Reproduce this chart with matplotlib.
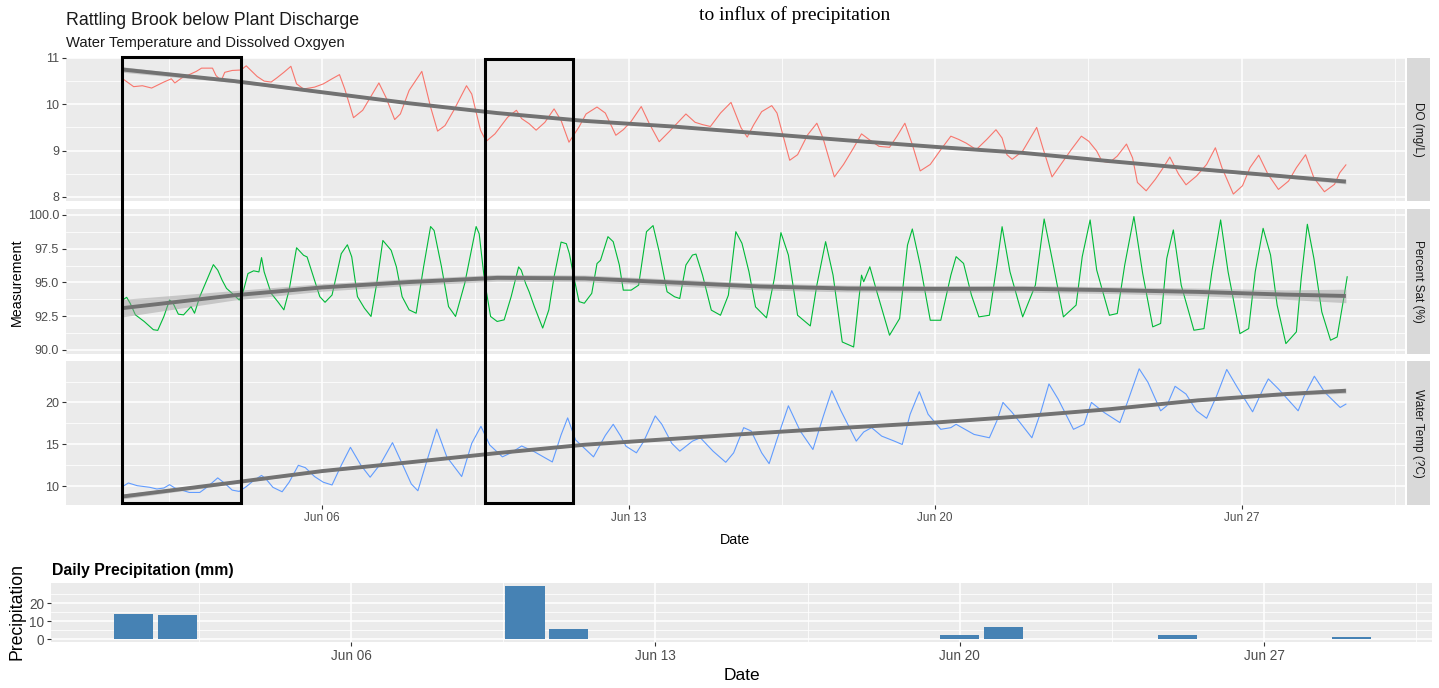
import numpy as np
import pandas as pd
import matplotlib
matplotlib.use("Agg")
import matplotlib.pyplot as plt
import matplotlib.dates as mdates
import matplotlib.transforms as mtransforms
from matplotlib.patches import Rectangle
from matplotlib.ticker import FixedLocator, NullFormatter

# ---- data (day = day of June, fractional) ----
do_points = [
    (1.45, 10.55), (1.70, 10.38), (1.90, 10.40), (2.11, 10.35), (2.39, 10.48), (2.56, 10.55),
    (2.64, 10.46), (2.80, 10.57), (2.97, 10.64), (3.13, 10.71), (3.25, 10.78), (3.50, 10.78),
    (3.58, 10.62), (3.70, 10.51), (3.78, 10.69), (3.95, 10.73), (4.15, 10.74), (4.27, 10.83),
    (4.40, 10.71), (4.52, 10.60), (4.68, 10.50), (4.84, 10.48), (4.97, 10.57), (5.13, 10.69),
    (5.29, 10.82), (5.42, 10.44), (5.58, 10.33), (5.83, 10.37), (6.03, 10.44), (6.23, 10.55),
    (6.40, 10.64), (6.52, 10.33), (6.72, 9.71), (6.93, 9.87), (7.13, 10.19), (7.30, 10.46),
    (7.46, 10.15), (7.66, 9.67), (7.79, 9.79), (7.99, 10.30), (8.28, 10.71), (8.48, 9.94),
    (8.64, 9.42), (8.81, 9.54), (9.01, 9.87), (9.30, 10.40), (9.42, 10.22), (9.62, 9.44),
    (9.75, 9.20), (9.95, 9.36), (10.24, 9.72), (10.44, 9.87), (10.56, 9.69), (10.73, 9.58),
    (10.89, 9.44), (11.09, 9.61), (11.30, 9.90), (11.46, 9.65), (11.64, 9.18), (11.87, 9.51),
    (12.03, 9.79), (12.28, 9.94), (12.47, 9.81), (12.71, 9.33), (12.88, 9.45), (13.06, 9.63),
    (13.29, 9.95), (13.47, 9.59), (13.70, 9.19), (13.93, 9.41), (14.11, 9.59), (14.31, 9.79),
    (14.52, 9.61), (14.69, 9.56), (14.87, 9.52), (15.10, 9.81), (15.34, 10.04), (15.57, 9.49),
    (15.71, 9.29), (15.86, 9.56), (16.04, 9.84), (16.27, 9.97), (16.39, 9.81), (16.68, 8.79),
    (16.86, 8.91), (17.09, 9.34), (17.30, 9.59), (17.44, 9.27), (17.70, 8.43), (17.91, 8.70),
    (18.14, 9.06), (18.32, 9.36), (18.49, 9.24), (18.72, 9.09), (18.96, 9.07), (19.13, 9.31),
    (19.31, 9.59), (19.48, 9.13), (19.66, 8.56), (19.89, 8.70), (20.13, 9.02), (20.36, 9.31),
    (20.54, 9.24), (20.71, 9.16), (20.94, 9.02), (21.18, 9.24), (21.39, 9.45), (21.53, 9.27),
    (21.64, 8.91), (21.76, 8.81), (22.00, 8.99), (22.32, 9.50), (22.46, 9.06), (22.67, 8.43),
    (22.87, 8.70), (23.11, 9.02), (23.34, 9.31), (23.51, 9.20), (23.69, 8.99), (23.81, 8.77),
    (23.98, 8.74), (24.16, 8.88), (24.37, 9.14), (24.51, 8.84), (24.62, 8.31), (24.82, 8.13),
    (25.03, 8.38), (25.21, 8.63), (25.36, 8.86), (25.56, 8.49), (25.73, 8.26), (25.97, 8.45),
    (26.20, 8.70), (26.40, 9.06), (26.55, 8.63), (26.81, 8.06), (27.02, 8.24), (27.19, 8.63),
    (27.39, 8.90), (27.60, 8.49), (27.84, 8.16), (28.07, 8.34), (28.25, 8.63), (28.46, 8.91),
    (28.65, 8.41), (28.89, 8.11), (29.12, 8.27), (29.24, 8.52), (29.38, 8.69),
]

sat_points = [
    (1.45, 93.70), (1.54, 93.90), (1.62, 93.46), (1.74, 92.60), (1.94, 92.11), (2.15, 91.50),
    (2.25, 91.45), (2.39, 92.48), (2.52, 93.70), (2.60, 93.46), (2.72, 92.65), (2.84, 92.60),
    (3.01, 93.21), (3.09, 92.72), (3.21, 93.95), (3.37, 95.17), (3.52, 96.32), (3.62, 95.91),
    (3.72, 95.17), (3.82, 94.56), (3.95, 94.19), (4.11, 93.70), (4.19, 94.19), (4.31, 95.66),
    (4.44, 95.86), (4.56, 95.78), (4.62, 96.84), (4.68, 95.78), (4.84, 94.19), (4.99, 93.58),
    (5.13, 92.97), (5.25, 94.44), (5.42, 97.57), (5.58, 97.01), (5.66, 96.89), (5.83, 95.17),
    (5.95, 93.95), (6.07, 93.53), (6.23, 94.07), (6.44, 97.13), (6.58, 97.79), (6.68, 96.89),
    (6.81, 93.95), (6.97, 93.09), (7.12, 92.48), (7.25, 94.93), (7.39, 98.11), (7.58, 97.38),
    (7.70, 96.15), (7.83, 93.95), (7.99, 92.97), (8.15, 92.72), (8.32, 96.15), (8.48, 99.14),
    (8.56, 98.85), (8.73, 96.15), (8.89, 93.21), (9.05, 92.48), (9.26, 94.93), (9.52, 99.14),
    (9.59, 98.60), (9.71, 95.17), (9.85, 92.48), (10.00, 92.11), (10.16, 92.23), (10.32, 93.95),
    (10.49, 96.15), (10.55, 95.91), (10.65, 94.93), (10.73, 94.31), (10.85, 93.21), (11.04, 91.62),
    (11.18, 92.97), (11.30, 95.42), (11.46, 97.99), (11.58, 97.87), (11.65, 97.13), (11.75, 95.42),
    (11.87, 93.58), (11.99, 93.46), (12.16, 94.19), (12.28, 96.40), (12.36, 96.64), (12.53, 98.39),
    (12.65, 98.02), (12.79, 96.29), (12.88, 94.43), (13.06, 94.43), (13.23, 94.80), (13.41, 98.76),
    (13.56, 99.21), (13.70, 97.28), (13.88, 94.31), (14.05, 93.94), (14.17, 93.81), (14.31, 96.29),
    (14.46, 97.03), (14.54, 97.10), (14.69, 95.54), (14.89, 92.95), (15.10, 92.57), (15.28, 94.06),
    (15.45, 98.76), (15.59, 97.90), (15.75, 95.79), (15.90, 93.19), (16.15, 92.38), (16.33, 95.30),
    (16.48, 98.69), (16.65, 97.03), (16.86, 92.57), (17.15, 91.78), (17.30, 94.80), (17.50, 98.02),
    (17.67, 95.54), (17.88, 90.59), (18.14, 90.22), (18.32, 95.54), (18.37, 95.05), (18.51, 96.16),
    (18.67, 94.31), (18.96, 91.09), (19.19, 92.33), (19.37, 97.77), (19.48, 98.96), (19.66, 96.29),
    (19.89, 92.20), (20.13, 92.20), (20.36, 95.54), (20.48, 96.91), (20.65, 96.41), (20.83, 94.06),
    (21.00, 92.45), (21.24, 92.57), (21.41, 96.29), (21.53, 99.13), (21.71, 95.79), (22.00, 92.45),
    (22.29, 94.80), (22.49, 99.70), (22.70, 96.29), (22.93, 92.45), (23.22, 93.32), (23.36, 96.91),
    (23.54, 99.63), (23.69, 95.92), (23.98, 92.57), (24.16, 92.70), (24.33, 96.29), (24.54, 99.88),
    (24.74, 95.67), (24.97, 91.71), (25.15, 91.96), (25.29, 96.78), (25.44, 98.89), (25.62, 94.80),
    (25.91, 91.46), (26.14, 91.58), (26.32, 95.79), (26.52, 99.63), (26.69, 95.79), (26.96, 91.21),
    (27.16, 91.58), (27.31, 95.79), (27.49, 99.01), (27.66, 97.03), (27.81, 93.32), (28.01, 90.47),
    (28.25, 91.34), (28.36, 95.30), (28.50, 99.31), (28.65, 96.78), (28.83, 92.82), (29.03, 90.72),
    (29.18, 90.96), (29.33, 93.81), (29.41, 95.42),
]

temp_points = [
    (1.48, 10.06), (1.58, 10.38), (1.78, 10.06), (2.07, 9.86), (2.23, 9.66), (2.39, 9.78),
    (2.52, 10.18), (2.64, 9.78), (2.97, 9.25), (3.21, 9.25), (3.37, 9.86), (3.62, 10.99),
    (3.78, 10.34), (3.95, 9.53), (4.11, 9.37), (4.27, 9.94), (4.44, 10.67), (4.62, 11.28),
    (4.72, 10.87), (4.88, 9.86), (5.09, 9.33), (5.25, 10.47), (5.46, 12.49), (5.62, 12.21),
    (5.83, 11.15), (6.03, 10.47), (6.23, 10.14), (6.44, 12.49), (6.65, 14.64), (6.89, 12.49),
    (7.10, 11.07), (7.34, 12.69), (7.61, 15.20), (7.83, 12.69), (8.04, 10.26), (8.19, 9.45),
    (8.40, 13.10), (8.62, 16.82), (8.85, 13.50), (9.19, 11.15), (9.42, 15.12), (9.63, 17.15),
    (9.83, 14.92), (10.12, 13.50), (10.32, 13.99), (10.56, 14.80), (10.85, 14.11), (11.26, 12.89),
    (11.46, 16.13), (11.61, 18.16), (11.79, 15.53), (12.20, 13.50), (12.47, 16.06), (12.65, 17.39),
    (12.82, 15.98), (12.94, 14.78), (13.18, 13.98), (13.35, 15.38), (13.61, 18.39), (13.76, 17.39),
    (13.99, 15.10), (14.17, 14.18), (14.46, 15.38), (14.64, 15.78), (14.93, 14.18), (15.22, 12.85),
    (15.40, 13.98), (15.63, 16.99), (15.80, 16.59), (16.04, 13.98), (16.21, 12.69), (16.39, 15.58),
    (16.65, 19.60), (16.92, 16.59), (17.21, 14.38), (17.45, 18.39), (17.64, 21.41), (17.85, 19.00),
    (18.20, 15.38), (18.37, 16.47), (18.55, 16.99), (18.78, 15.98), (19.07, 15.38), (19.25, 14.98),
    (19.43, 18.59), (19.64, 21.29), (19.84, 18.59), (20.13, 16.79), (20.36, 16.99), (20.48, 17.39),
    (20.89, 16.18), (21.24, 15.78), (21.41, 17.79), (21.55, 20.00), (21.76, 18.80), (22.21, 15.78),
    (22.41, 18.80), (22.60, 22.21), (22.81, 20.40), (23.16, 16.79), (23.40, 17.39), (23.57, 20.00),
    (23.86, 18.80), (24.22, 17.59), (24.39, 20.00), (24.66, 24.02), (24.86, 22.41), (25.15, 19.00),
    (25.29, 19.60), (25.48, 21.93), (25.73, 21.00), (25.97, 19.00), (26.20, 18.11), (26.43, 20.80),
    (26.66, 23.94), (26.90, 21.81), (27.25, 18.88), (27.49, 21.61), (27.61, 22.81), (27.84, 21.61),
    (28.29, 19.00), (28.43, 20.80), (28.66, 23.13), (28.90, 21.20), (29.25, 19.40), (29.38, 19.80),
]

# loess trend lines with standard-error half widths
smooth_days = [1.45, 4, 6, 8, 10, 12, 14, 16, 18, 20, 22, 24, 26, 28, 29.38]
do_smooth = [10.75, 10.50, 10.26, 10.02, 9.81, 9.64, 9.52, 9.37, 9.22, 9.08, 8.95, 8.77, 8.60, 8.44, 8.33]
do_se = [0.06, 0.03, 0.025, 0.02, 0.02, 0.02, 0.02, 0.02, 0.02, 0.02, 0.02, 0.02, 0.025, 0.03, 0.05]
sat_smooth = [93.1, 94.05, 94.63, 95.03, 95.34, 95.30, 95.00, 94.70, 94.55, 94.52, 94.53, 94.43, 94.30, 94.10, 94.00]
sat_se = [0.65, 0.35, 0.28, 0.25, 0.25, 0.25, 0.25, 0.25, 0.25, 0.25, 0.25, 0.25, 0.28, 0.35, 0.5]
temp_smooth = [8.77, 10.45, 11.80, 12.85, 13.95, 14.95, 15.65, 16.35, 17.00, 17.60, 18.35, 19.20, 20.25, 21.00, 21.40]
temp_se = [0.3, 0.15, 0.12, 0.1, 0.1, 0.1, 0.1, 0.1, 0.1, 0.1, 0.1, 0.1, 0.12, 0.18, 0.3]

# highlighted windows (start day, end day)
windows = [(1.43, 4.15), (9.72, 11.73)]

precip_days = [1, 2, 10, 11, 20, 21, 25, 29]
precip_mm = [14.0, 13.2, 29.6, 5.5, 2.4, 7.0, 2.4, 1.4]

facet_labels = ["DO (mg/L)", "Percent Sat (%)", "Water Temp (?C)"]
facet_colors = ["#F8766D", "#00BA38", "#619CFF"]
do_ticks = [8, 9, 10, 11]
sat_ticks = [90.0, 92.5, 95.0, 97.5, 100.0]
temp_ticks = [10, 15, 20]
precip_ticks = [0, 10, 20]
date_ticks = [6, 13, 20, 27]
date_minor = [2.5, 9.5, 16.5, 23.5, 30.5]

# ---- helpers ----
W, H = 1439, 688
plt.rcParams['font.family'] = ['Liberation Sans', 'DejaVu Sans']


def to_date(days):
    return (pd.Timestamp('2021-05-31') + pd.to_timedelta(np.asarray(days, dtype=float), unit='D')).values


def box(x0, y0, x1, y1):
    return [x0 / W, 1 - y1 / H, (x1 - x0) / W, (y1 - y0) / H]


def style(ax, yt, ylabels, ylim, xlim, show_x):
    ax.set_facecolor('#EBEBEB')
    for s in ax.spines.values():
        s.set_visible(False)
    ax.set_xlim(xlim)
    ax.set_ylim(ylim)
    ax.xaxis.set_major_locator(FixedLocator(mdates.date2num(to_date(date_ticks))))
    ax.xaxis.set_minor_locator(FixedLocator(mdates.date2num(to_date(date_minor))))
    ax.xaxis.set_major_formatter(mdates.DateFormatter('%b %d'))
    ax.xaxis.set_minor_formatter(NullFormatter())
    ax.yaxis.set_major_locator(FixedLocator(yt))
    mids = [(a + b) / 2 for a, b in zip(yt[:-1], yt[1:])]
    step = yt[1] - yt[0]
    mids = [yt[0] - step / 2] + mids + [yt[-1] + step / 2]
    ax.yaxis.set_minor_locator(FixedLocator(mids))
    ax.set_yticklabels(ylabels)
    ax.grid(which='major', color='white', lw=1.1)
    ax.grid(which='minor', color='white', lw=0.55)
    ax.set_axisbelow(True)
    ax.tick_params(which='major', color='#333333', length=3, width=0.8,
                   labelcolor='#4D4D4D', labelsize=8.5, pad=2)
    ax.tick_params(axis='y', labelsize=9)
    ax.tick_params(which='minor', length=0)
    if not show_x:
        ax.tick_params(axis='x', which='major', length=0, labelbottom=False)


fig = plt.figure(figsize=(W / 100, H / 100), dpi=100)

top_xlim = to_date([0.155, 30.73])
panel_boxes = [(66, 57.5, 1405, 201), (66, 209, 1405, 354), (66, 361, 1405, 505)]
ylims = [(7.91, 11.01), (89.7, 100.44), (7.75, 24.95)]
series = [do_points, sat_points, temp_points]
smooths = [(do_smooth, do_se), (sat_smooth, sat_se), (temp_smooth, temp_se)]
ticks = [(do_ticks, [str(t) for t in do_ticks]),
         (sat_ticks, ['%.1f' % t for t in sat_ticks]),
         (temp_ticks, [str(t) for t in temp_ticks])]

axes = []
for i in range(3):
    ax = fig.add_axes(box(*panel_boxes[i]))
    d, v = zip(*series[i])
    ax.plot(to_date(d), v, color=facet_colors[i], lw=0.8, zorder=2)
    sm, se = smooths[i]
    sm = np.array(sm)
    se = np.array(se)
    sd = to_date(smooth_days)
    ax.fill_between(sd, sm - se, sm + se, color='#999999', alpha=0.45, lw=0, zorder=3)
    ax.plot(sd, sm, color='#727272', lw=2.8, zorder=4, solid_capstyle='butt')
    style(ax, ticks[i][0], ticks[i][1], ylims[i], top_xlim, i == 2)
    axes.append(ax)

    x0, y0, x1, y1 = panel_boxes[i]
    st = fig.add_axes(box(1407, y0, 1430, y1))
    st.set_facecolor('#D9D9D9')
    st.set_xticks([])
    st.set_yticks([])
    for s in st.spines.values():
        s.set_visible(False)
    st.text(0.5, 0.5, facet_labels[i], rotation=-90, ha='center', va='center',
            fontsize=8.5, color='#1A1A1A', transform=st.transAxes)

# highlight boxes spanning all three panels
ov = fig.add_axes(box(66, 57.5, 1405, 505), zorder=10)
ov.set_xlim(top_xlim)
ov.axis('off')
trans = mtransforms.blended_transform_factory(ov.transData, fig.transFigure)
box_tops = [57, 59]
for (a, b), ytop in zip(windows, box_tops):
    xa = mdates.date2num(to_date([a]))[0]
    xb = mdates.date2num(to_date([b]))[0]
    ov.add_patch(Rectangle((xa, 1 - 503 / H), xb - xa, (503 - ytop) / H,
                           transform=trans, fill=False, ec='black', lw=2.2, clip_on=False))

fig.text(66 / W, 1 - 25 / H, "Rattling Brook below Plant Discharge", fontsize=12.8, va='baseline', color='#1A1A1A')
fig.text(66 / W, 1 - 47.5 / H, "Water Temperature and Dissolved Oxgyen", fontsize=10.6, va='baseline', color='#1A1A1A')
fig.text(795 / W, 1 - 20 / H, "to influx of precipitation", fontsize=14, va='baseline', ha='center',
         family=['Liberation Serif', 'DejaVu Serif'])
fig.text(17 / W, 1 - 282 / H, "Measurement", rotation=90, ha='center', va='center', fontsize=10.3)
fig.text(735 / W, 1 - 540 / H, "Date", ha='center', va='center', fontsize=10.3)

# ---- bottom precipitation panel ----
axb = fig.add_axes(box(51, 583, 1432, 642))
axb.bar(to_date(precip_days), precip_mm, width=0.9, color='#4682B4', zorder=2)
style(axb, precip_ticks, [str(t) for t in precip_ticks], (-1.48, 31.2), to_date([-0.9, 30.86]), True)
axb.yaxis.set_minor_locator(FixedLocator([5, 15, 25]))
axb.tick_params(labelsize=9.8)
fig.text(52 / W, 1 - 570 / H, "Daily Precipitation (mm)", fontsize=11.4, fontweight='bold', va='center')
fig.text(17 / W, 1 - 612 / H, "Precipitation", rotation=90, ha='center', va='center', fontsize=12.7)
fig.text(742 / W, 1 - 676 / H, "Date", ha='center', va='center', fontsize=12.5)

fig.savefig("out.png", dpi=100)
